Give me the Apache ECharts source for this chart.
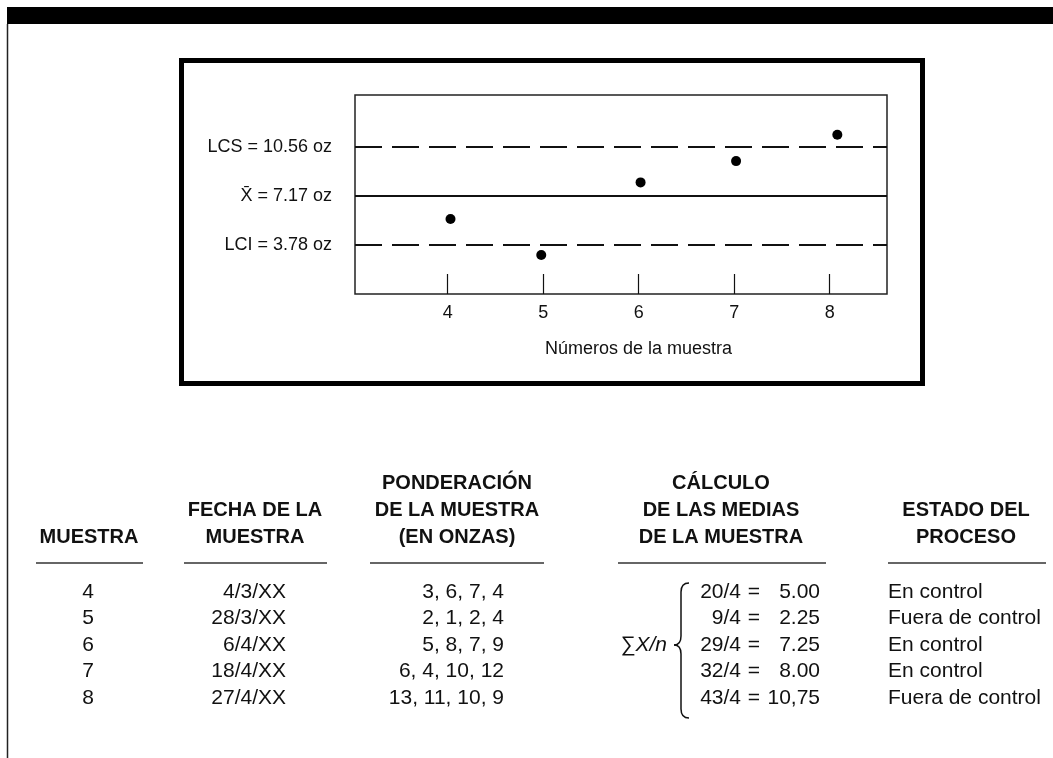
<!DOCTYPE html>
<html>
<head>
<meta charset="utf-8">
<title>Gráfico de control X</title>
<script src="https://cdn.jsdelivr.net/npm/echarts@6/dist/echarts.min.js"></script>
<style>
html, body { margin: 0; padding: 0; background: #fff; }
#chart { width: 1053px; height: 758px; }
</style>
</head>
<body>
<div id="chart"></div>
<script>
// control limits (oz)
const limitValues = [10.56, 7.17, 3.78]
const limitLabels = ['LCS = 10.56 oz', 'X\u0304 = 7.17 oz', 'LCI = 3.78 oz']

// sample numbers on the x axis
const sampleTicks = [4, 5, 6, 7, 8]
// points as they sit in the figure (position)
const pointX = [4.03, 4.98, 6.02, 7.02, 8.08]
const pointY = [5.57, 3.09, 8.10, 9.57, 11.39]

// table
const sampleNumbers = ['4', '5', '6', '7', '8']
const sampleDates = ['4/3/XX', '28/3/XX', '6/4/XX', '18/4/XX', '27/4/XX']
const sampleWeights = ['3, 6, 7, 4', '2, 1, 2, 4', '5, 8, 7, 9', '6, 4, 10, 12', '13, 11, 10, 9']
const meanFractions = ['20/4', '9/4', '29/4', '32/4', '43/4']
const meanResults = ['5.00', '2.25', '7.25', '8.00', '10,75']
const processStatus = ['En control', 'Fuera de control', 'En control', 'En control', 'Fuera de control']

const headers = [
  { lines: ['MUESTRA'], x: 89, line: [36, 143] },
  { lines: ['FECHA DE LA', 'MUESTRA'], x: 255, line: [184, 327] },
  { lines: ['PONDERACIÓN', 'DE LA MUESTRA', '(EN ONZAS)'], x: 457, line: [370, 544] },
  { lines: ['CÁLCULO', 'DE LAS MEDIAS', 'DE LA MUESTRA'], x: 721, line: [618, 826] },
  { lines: ['ESTADO DEL', 'PROCESO'], x: 966, line: [888, 1046] }
]

const font = '"Liberation Sans", Arial, Helvetica, sans-serif'
const headerLineY = [483, 510, 537]
const rowY = [592, 618, 645, 671, 698]

const txt = (text, x, y, align, extra) => ({
  type: 'text',
  x: x,
  y: y,
  silent: true,
  style: Object.assign({
    text: text,
    fill: '#111',
    font: '21px ' + font,
    textAlign: align || 'center',
    textVerticalAlign: 'middle'
  }, extra || {})
})

const seg = (x1, y1, x2, y2) => ({
  type: 'line',
  silent: true,
  shape: { x1, y1, x2, y2 },
  style: { stroke: '#111', lineWidth: 1.5 }
})

const curve = (x1, y1, cx, cy, x2, y2) => ({
  type: 'bezierCurve',
  silent: true,
  shape: { x1, y1, cpx1: cx, cpy1: cy, x2, y2 },
  style: { stroke: '#111', lineWidth: 1.5, fill: null }
})

const buildTable = () => {
  const els = []
  headers.forEach(h => {
    const start = 3 - h.lines.length
    h.lines.forEach((l, i) => {
      els.push(txt(l, h.x, headerLineY[start + i], 'center', { font: 'bold 20px ' + font }))
    })
    els.push({
      type: 'line',
      silent: true,
      shape: { x1: h.line[0], y1: 563, x2: h.line[1], y2: 563 },
      style: { stroke: '#333', lineWidth: 1.5 }
    })
  })
  rowY.forEach((y, i) => {
    els.push(txt(sampleNumbers[i], 88, y, 'center'))
    els.push(txt(sampleDates[i], 286, y, 'right'))
    els.push(txt(sampleWeights[i], 504, y, 'right'))
    els.push(txt(meanFractions[i], 741, y, 'right'))
    els.push(txt('=', 754, y, 'center'))
    els.push(txt(meanResults[i], 820, y, 'right'))
    els.push(txt(processStatus[i], 888, y, 'left'))
  })
  // sum / n with brace
  els.push({
    type: 'text',
    x: 667,
    y: 645,
    silent: true,
    style: {
      text: '{s|∑}{i|X/n}',
      textAlign: 'right',
      textVerticalAlign: 'middle',
      rich: {
        s: { font: '21px ' + font, fill: '#111' },
        i: { font: 'italic 21px ' + font, fill: '#111' }
      }
    }
  })
  els.push(curve(689, 583, 681, 583, 681, 592))
  els.push(seg(681, 592, 681, 636))
  els.push(curve(681, 636, 681, 645, 674, 645))
  els.push(curve(674, 645, 681, 645, 681, 654))
  els.push(seg(681, 654, 681, 709))
  els.push(curve(681, 709, 681, 718, 689, 718))
  return els
}

const frame = [
  // black band at the top of the page
  { type: 'rect', silent: true, shape: { x: 7, y: 7, width: 1046, height: 17 }, style: { fill: '#000' } },
  // page rule on the left
  { type: 'line', silent: true, shape: { x1: 7.5, y1: 24, x2: 7.5, y2: 758 }, style: { stroke: '#222', lineWidth: 1.5 } },
  // heavy box round the chart
  { type: 'rect', silent: true, shape: { x: 181.5, y: 60.5, width: 741, height: 323 }, style: { fill: null, stroke: '#000', lineWidth: 5 } }
]

const chart = echarts.init(document.getElementById('chart'))

const option = {
  animation: false,
  backgroundColor: '#fff',
  textStyle: { fontFamily: font },
  grid: {
    left: 355,
    top: 95,
    right: 166,
    bottom: 464,
    show: true,
    borderColor: '#222',
    borderWidth: 1.5,
    backgroundColor: 'transparent'
  },
  xAxis: {
    type: 'value',
    min: 3.03,
    max: 8.6,
    name: 'Números de la muestra',
    nameLocation: 'middle',
    nameGap: 46,
    nameTextStyle: { fontSize: 18, color: '#111', padding: [0, 0, 0, 35] },
    axisLine: { show: false },
    splitLine: { show: false },
    axisTick: {
      show: true,
      inside: true,
      length: 20,
      customValues: sampleTicks,
      lineStyle: { color: '#111', width: 1.2 }
    },
    axisLabel: {
      customValues: sampleTicks,
      fontSize: 18,
      color: '#111',
      margin: 10
    }
  },
  yAxis: {
    type: 'value',
    min: 0.4,
    max: 14.13,
    axisLine: { show: false },
    axisTick: { show: false },
    splitLine: { show: false },
    axisLabel: {
      customValues: limitValues,
      fontSize: 18,
      color: '#111',
      margin: 23,
      formatter: (v) => {
        let best = 0
        limitValues.forEach((lv, i) => {
          if (Math.abs(lv - v) < Math.abs(limitValues[best] - v)) best = i
        })
        return limitLabels[best]
      }
    }
  },
  series: [
    {
      type: 'scatter',
      symbol: 'circle',
      symbolSize: 10,
      itemStyle: { color: '#000', opacity: 1 },
      data: pointX.map((x, i) => [x, pointY[i]]),
      markLine: {
        silent: true,
        symbol: ['none', 'none'],
        label: { show: false },
        data: [
          { yAxis: limitValues[0], lineStyle: { color: '#111', width: 2, type: [27, 10] } },
          { yAxis: limitValues[1], lineStyle: { color: '#111', width: 1.8, type: 'solid' } },
          { yAxis: limitValues[2], lineStyle: { color: '#111', width: 2, type: [27, 10] } }
        ]
      }
    }
  ],
  graphic: frame.concat(buildTable())
}

chart.setOption(option)
</script>
</body>
</html>
